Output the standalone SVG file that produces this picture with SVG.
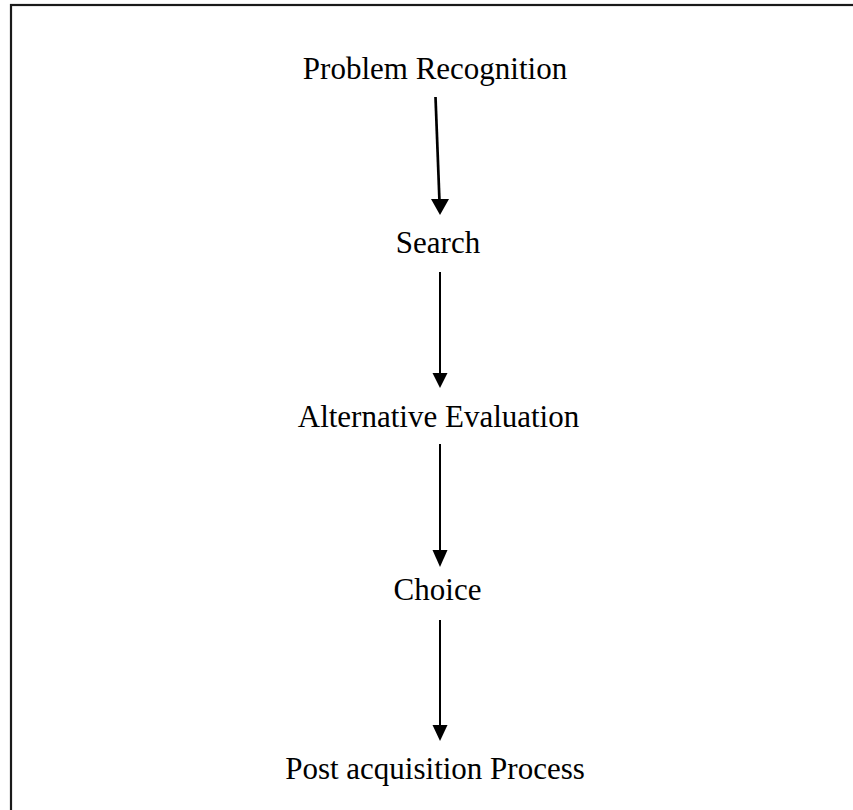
<svg xmlns="http://www.w3.org/2000/svg" width="853" height="810" viewBox="0 0 853 810">
<style>
.lbl{font-family:"Liberation Serif","Times New Roman",serif;font-size:31px;fill:#000;text-anchor:middle}
.edge{stroke:#000;stroke-width:2;fill:none}
.head{fill:#000}
</style>
<rect x="0" y="0" width="853" height="810" fill="#fff"/>
<rect id="frame" x="11" y="5" width="860" height="830" fill="none" stroke="#1a1a1a" stroke-width="2.2"/>
<g id="n1"><text class="lbl" x="435" y="79">Problem Recognition</text></g>
<g id="n2"><text class="lbl" x="438" y="253">Search</text></g>
<g id="n3"><text class="lbl" x="438.5" y="427">Alternative Evaluation</text></g>
<g id="n4"><text class="lbl" x="437.5" y="600">Choice</text></g>
<g id="n5"><text class="lbl" x="435" y="779">Post acquisition Process</text></g>
<g id="connectors">
<line class="edge" style="stroke-width:2.7" x1="435.5" y1="97" x2="439.5" y2="202"/>
<polygon class="head" points="431,199 449,199 440,215"/>
<line class="edge" x1="440" y1="272" x2="440" y2="375"/>
<polygon class="head" points="432.5,373 447.5,373 440,388"/>
<line class="edge" x1="440" y1="444" x2="440" y2="552"/>
<polygon class="head" points="432.5,550 447.5,550 440,567"/>
<line class="edge" x1="440" y1="620" x2="440" y2="727"/>
<polygon class="head" points="432.5,725 447.5,725 440,741"/>
</g>
</svg>
